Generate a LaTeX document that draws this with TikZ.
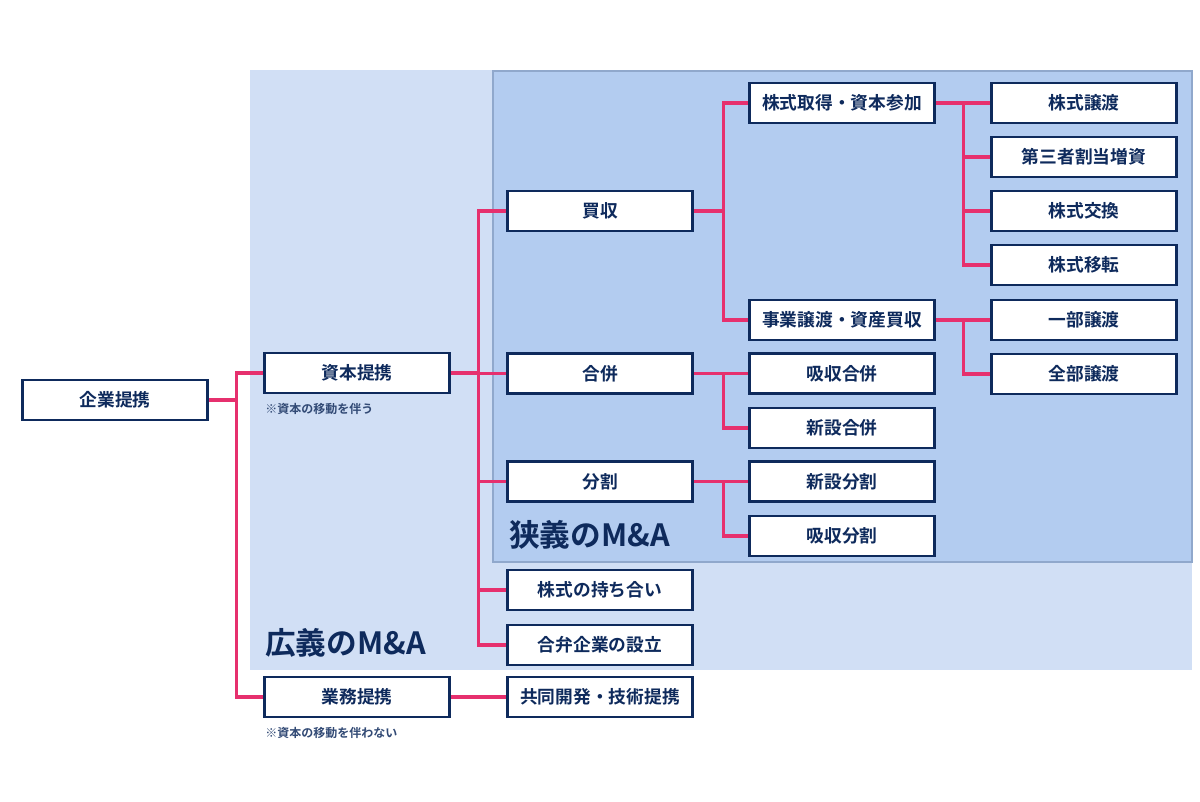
\documentclass[tikz,border=0pt]{standalone}
\usepackage{fontspec}
\setmainfont{Noto Sans CJK JP}[BoldFont={Noto Sans CJK JP Bold}]
\usepackage{tikz}
\usetikzlibrary{positioning, calc}
\definecolor{navy}{HTML}{0E2A5C}
\definecolor{pinkline}{HTML}{E6306E}
\definecolor{wideblue}{HTML}{D1DFF5}
\definecolor{narrowblue}{HTML}{B3CCF0}
\definecolor{narrowedge}{HTML}{90A8CC}
\tikzset{
  box/.style={draw=navy, line width=1.9pt, fill=white, text=navy, inner sep=0pt,
    minimum width=139pt, minimum height=30pt, font=\fontsize{13.3}{15}\selectfont\bfseries},
  link/.style={draw=pinkline, line width=2.3pt},
  note/.style={anchor=west, text=navy!85, inner sep=0pt, font=\fontsize{9}{10}\selectfont\bfseries},
  area/.style={anchor=west, text=navy, inner sep=0pt, font=\fontsize{23}{26}\selectfont\bfseries}
}

\begin{document}
\begin{tikzpicture}[x=0.75pt, y=-0.75pt]
            \useasboundingbox (0,0) rectangle (1200,802);
            % areas
            \fill[wideblue] (250,70) rectangle (1192,670);
            \draw[narrowedge, fill=narrowblue, line width=1pt] (493,71) rectangle (1192,562);
            \node[area] (kogi) at (265,643) {広義のM\&A};
            \node[area] (kyogi) at (509,535) {狭義のM\&A};

            % boxes
            \node[box] (kigyo) at (115,400) {企業提携};
            \node[box] (shihon) at (357,373) {資本提携};
            \node[box] (gyomu) at (357,697) {業務提携};
            \node[note] (shihonnote) at (265,409) {※資本の移動を伴う};
            \node[note] (gyomunote) at (265,733) {※資本の移動を伴わない};

            \node[box] (baishu) at (600,211) {買収};
            \node[box] (gappei) at (600,373.5) {合併};
            \node[box] (bunkatsu) at (600,481.5) {分割};
            \node[box] (mochiai) at (600,590) {株式の持ち合い};
            \node[box] (goben) at (600,645) {合弁企業の設立};
            \node[box] (kyodo) at (600,697) {共同開発・技術提携};

            \node[box] (shutoku) at (842,103) {株式取得・資本参加};
            \node[box] (jigyo) at (842,320) {事業譲渡・資産買収};
            \node[box] (kyushug) at (842,373.5) {吸収合併};
            \node[box] (shinsetsug) at (842,428) {新設合併};
            \node[box] (shinsetsub) at (842,481.5) {新設分割};
            \node[box] (kyushub) at (842,536) {吸収分割};

            \node[box] (joto) at (1084,103) {株式譲渡};
            \node[box] (sansha) at (1084,157) {第三者割当増資};
            \node[box] (kokan) at (1084,211) {株式交換};
            \node[box] (iten) at (1084,265) {株式移転};
            \node[box] (ichibu) at (1084,320) {一部譲渡};
            \node[box] (zenbu) at (1084,374) {全部譲渡};

            % links
            \path (kigyo.east) -- ++(28,0) coordinate (fork0);
            \draw[link] (kigyo.east) -- (fork0);
            \draw[link] (fork0) |- (shihon.west);
            \draw[link] (fork0) |- (gyomu.west);
            \draw[link] (shihon.east) -| ($(shihon.east)!0.5!(gappei.west)$) coordinate (fork1) |- (gappei.west);
            \foreach \n in {baishu, bunkatsu, mochiai, goben} {
                \draw[link] (fork1) |- (\n.west);
            }
            \draw[link] (gyomu.east) -- (kyodo.west);
            \draw[link] (baishu.east) -- ++(30,0) coordinate (fork2);
            \foreach \n in {shutoku, jigyo} {
                \draw[link] (fork2) |- (\n.west);
            }
            \draw[link] (gappei.east) -- (kyushug.west);
            \draw[link] (gappei.east) -- ++(30,0) coordinate (fork3) |- (shinsetsug.west);
            \draw[link] (bunkatsu.east) -- (shinsetsub.west);
            \draw[link] (bunkatsu.east) -- ++(30,0) coordinate (fork4) |- (kyushub.west);
            \draw[link] (shutoku.east) -- ++(28,0) coordinate (fork5);
            \foreach \n in {joto, sansha, kokan, iten} {
                \draw[link] (fork5) |- (\n.west);
            }
            \draw[link] (jigyo.east) -- ++(28,0) coordinate (fork6);
            \foreach \n in {ichibu, zenbu} {
                \draw[link] (fork6) |- (\n.west);
            }
        \end{tikzpicture}
\end{document}
